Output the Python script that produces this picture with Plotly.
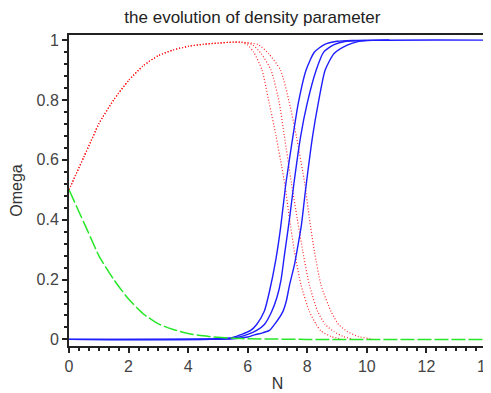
import plotly.graph_objects as go

# ---- data ----
# shared early part of the three red (dotted) curves
n_early = [0, 0.25, 0.5, 0.75, 1, 1.5, 2, 2.5, 3, 3.5, 4, 4.5, 5, 5.5]
red_early = [0.5, 0.555, 0.61, 0.665, 0.72, 0.80, 0.865, 0.915, 0.948, 0.967, 0.979, 0.986, 0.99, 0.993]

red1_n = [5.8, 5.98, 6.2, 6.48, 6.72, 6.95, 7.1, 7.25, 7.4, 7.57, 7.79, 8.07, 8.3, 8.46, 8.8, 9.13]
red1 = [0.992, 0.985, 0.96, 0.9, 0.79, 0.68, 0.6, 0.515, 0.405, 0.294, 0.182, 0.093, 0.05, 0.028, 0.01, 0.002]

red2_n = [5.8, 6.15, 6.45, 6.78, 7.06, 7.23, 7.47, 7.66, 7.85, 8.07, 8.35, 8.6, 8.9, 9.2, 9.5]
red2 = [0.993, 0.985, 0.955, 0.9, 0.79, 0.68, 0.52, 0.405, 0.294, 0.182, 0.093, 0.05, 0.026, 0.01, 0.002]

red3_n = [5.8, 6.35, 6.7, 7.1, 7.4, 7.63, 7.92, 8.07, 8.24, 8.46, 8.8, 9.05, 9.35, 9.7, 10.2]
red3 = [0.993, 0.985, 0.955, 0.9, 0.79, 0.68, 0.518, 0.405, 0.294, 0.182, 0.093, 0.05, 0.026, 0.01, 0.001]

blue1_n = [0, 5.0, 5.5, 5.8, 6.1, 6.3, 6.56, 6.73, 6.95, 7.1, 7.28, 7.52, 7.7, 7.96, 8.24, 8.57, 9.0, 9.5, 10.75]
blue1 = [0, 0.002, 0.007, 0.017, 0.03, 0.05, 0.095, 0.16, 0.27, 0.37, 0.52, 0.68, 0.79, 0.9, 0.96, 0.985, 0.996, 0.999, 1.0]

blue2_n = [0, 5.5, 6.0, 6.3, 6.56, 6.79, 6.98, 7.12, 7.23, 7.4, 7.55, 7.78, 8.0, 8.3, 8.55, 8.9, 9.3, 10.0, 10.75]
blue2 = [0, 0.004, 0.017, 0.03, 0.05, 0.09, 0.14, 0.2, 0.28, 0.4, 0.52, 0.68, 0.79, 0.9, 0.96, 0.985, 0.996, 0.999, 1.0]

blue3_n = [0, 5.5, 6.0, 6.23, 6.5, 6.73, 6.9, 7.18, 7.3, 7.4, 7.57, 7.68, 7.8, 7.93, 8.18, 8.37, 8.6, 8.9, 9.34, 9.7, 10.2, 14]
blue3 = [0, 0.002, 0.008, 0.015, 0.022, 0.03, 0.05, 0.093, 0.13, 0.18, 0.25, 0.31, 0.38, 0.49, 0.68, 0.79, 0.9, 0.955, 0.983, 0.995, 0.999, 1.0]

green_n = [0, 0.25, 0.5, 0.75, 1, 1.5, 2, 2.5, 3, 3.5, 4, 4.5, 5, 5.5, 6, 7, 8, 14]
green = [0.5, 0.445, 0.39, 0.335, 0.28, 0.2, 0.135, 0.085, 0.052, 0.033, 0.02, 0.012, 0.007, 0.004, 0.002, 0.001, 0, 0]

x_ticks = [0, 2, 4, 6, 8, 10, 12, 14]
y_ticks = [0, 0.2, 0.4, 0.6, 0.8, 1]
y_tick_text = ["0", "0.2", "0.4", "0.6", "0.8", "1"]

FONT = "Liberation Sans, Arial, sans-serif"

fig = go.Figure()

for tail_n, tail_v in [(red1_n, red1), (red2_n, red2), (red3_n, red3)]:
    fig.add_trace(go.Scatter(
        x=n_early + tail_n, y=red_early + tail_v, mode="lines",
        line=dict(color="rgb(255,40,40)", width=1.2, dash="1px,2px", shape="spline", smoothing=0.6),
        showlegend=False, hoverinfo="skip"))

for bn, bv in [(blue1_n, blue1), (blue2_n, blue2), (blue3_n, blue3)]:
    fig.add_trace(go.Scatter(
        x=bn, y=bv, mode="lines",
        line=dict(color="rgb(30,30,255)", width=1.4, shape="spline", smoothing=0.6),
        showlegend=False, hoverinfo="skip"))

fig.add_trace(go.Scatter(
    x=green_n, y=green, mode="lines",
    line=dict(color="rgb(40,230,40)", width=1.5, dash="14px,3px", shape="spline", smoothing=0.6),
    showlegend=False, hoverinfo="skip"))

# the page has an 8px body margin, so the figure is sized to fit the 491x393 window
fig.update_layout(
    width=483, height=385,
    margin=dict(l=61, r=5, t=27, b=47, autoexpand=False),
    paper_bgcolor="white", plot_bgcolor="white",
    font=dict(family=FONT, size=16, color="#333"),
    title=dict(text="the evolution of density parameter", x=0.506, xref="container", xanchor="center",
               y=1 - 9.5 / 385, yref="container", yanchor="middle", automargin=False,
               font=dict(family=FONT, size=17, color="#222")),
    showlegend=False,
)

fig.update_xaxes(
    range=[0, 14], tickvals=x_ticks, ticktext=[str(v) for v in x_ticks],
    showline=True, linecolor="#222", linewidth=2, mirror=True,
    ticks="outside", ticklen=5, tickwidth=1.5, tickcolor="#222",
    minor=dict(dtick=1 / 3, ticks="outside", ticklen=3, tickcolor="#222", tickwidth=1.5),
    showgrid=False, zeroline=False, automargin=False, ticklabeloverflow="allow",
    title=dict(text="N", standoff=4, font=dict(family=FONT, size=16, color="#333")),
    tickfont=dict(family=FONT, size=16, color="#444"),
)
fig.update_yaxes(
    range=[-0.022, 1.017], tickvals=y_ticks, ticktext=y_tick_text,
    showline=True, linecolor="#222", linewidth=2, mirror=True,
    ticks="outside", ticklen=5, tickwidth=1.5, tickcolor="#222",
    minor=dict(dtick=0.04, ticks="outside", ticklen=3, tickcolor="#222", tickwidth=1.5),
    showgrid=False, zeroline=False, automargin=False, ticklabeloverflow="allow",
    title=dict(text="Omega", standoff=13, font=dict(family=FONT, size=16, color="#333")),
    tickfont=dict(family=FONT, size=16, color="#444"),
)

fig.write_html("out.html")
